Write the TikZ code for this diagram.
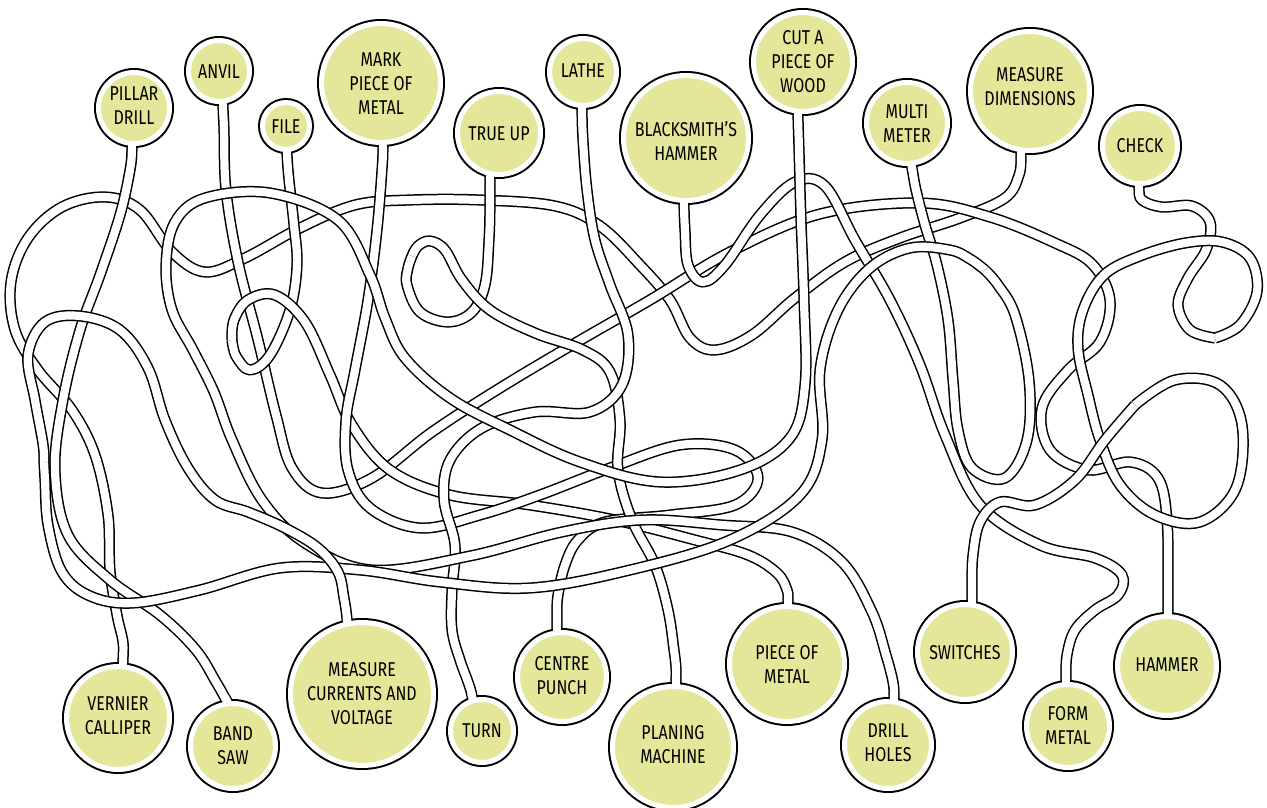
\documentclass[tikz,border=0pt]{standalone}
\usepackage{fontspec}
\newfontfamily\lblfont[FakeStretch=0.8]{Fira Sans}
\definecolor{yel}{HTML}{E4E799}
\tikzset{
  tube/.style={draw=black, line width=1.5pt, double=white, double distance=8.2pt, line join=round},
  bubble/.style={circle, fill=yel, draw=white, line width=5pt, preaction={draw=black, line width=9pt}, inner sep=0pt, minimum size=#1},
  lbl/.style={align=center, font=\lblfont\fontsize{20}{24}\selectfont, inner sep=0pt},
  stub/.style={draw=white, line width=8.2pt},
  sm/.style={smooth, tension=0.6}
}
\begin{document}
\begin{tikzpicture}[x=1pt,y=-1pt]
\fill[white] (0,0) rectangle (1267,808);
\useasboundingbox (0,0) rectangle (1267,808);

% ---------- tubes ----------
% Measure dimensions -> Vernier calliper
\draw[tube] plot[sm] coordinates {(1021,130) (1021,154) (1019,175) (1005,198) (960,218) (900,238) (845,262) (795,298) (752,335) (715,350) (690,338) (670,300) (640,265) (600,226) (555,206) (480,200) (410,200) (355,205) (300,228) (245,258) (205,272) (172,252) (140,210) (105,197) (62,207) (28,238) (11,282) (15,330) (38,370) (72,410) (95,455) (108,515) (110,570) (117,615) (123,642) (123,662) (123,690)};
% Pillar drill -> Band saw
\draw[tube] plot[sm] coordinates {(132,125) (132,148) (130,170) (120,215) (100,275) (80,330) (63,400) (55,470) (68,535) (110,580) (160,615) (196,650) (216,682) (226,699.5) (236,717)};
% Anvil -> Hammer
\draw[tube] plot[sm] coordinates {(223,85) (223,106) (224,130) (226,190) (238,262) (258,340) (276,415) (292,468) (322,493) (372,478) (432,432) (500,388) (572,345) (650,300) (730,252) (820,214) (920,203) (990,217) (1055,243) (1092,264) (1110,300) (1100,342) (1068,370) (1042,408) (1050,450) (1088,470) (1130,462) (1158,478) (1167,520) (1168,590) (1168,612) (1168,635)};
% File -> Piece of metal
\draw[tube] plot[sm] coordinates {(287,134) (287,154) (289,180) (294,225) (297,265) (290,310) (270,355) (250,370) (236,356) (232,340)};
\draw[tube] plot[sm] coordinates {(232,340) (234,320) (248,300) (275,295) (305,322) (330,375) (352,425) (390,470) (450,495) (530,505) (615,520) (695,540) (748,555) (777,573) (787,590) (788,602) (788,622)};
% Mark piece of metal -> Centre punch
\draw[tube] plot[sm] coordinates {(383,125) (383,147) (382,170) (377,230) (368,300) (355,370) (346,420) (348,470) (370,508) (420,528) (480,515) (540,495) (610,468) (680,445) (735,450) (758,478) (735,505) (670,515) (605,522) (578,540) (565,565) (558,595) (557,612) (557,628) (557,648)};
% True up -> Planing machine
\draw[tube] plot[sm] coordinates {(490,158) (490,178) (490,205) (489,240) (485,285) (472,312) (448,322) (420,312) (407,285) (408,268) (412,256)};
\draw[tube] plot[sm] coordinates {(412,256) (418,246) (430,241) (445,250) (462,280) (490,310) (535,333) (583,350) (610,372) (620,420) (618,470) (632,520) (655,565) (668,610) (674,650) (676,668) (676,682) (676,702)};
% Lathe -> Turn
\draw[tube] plot[sm] coordinates {(582,90) (582,110) (583,140) (587,190) (595,240) (610,285) (628,335) (622,385) (590,412) (535,412) (482,428) (450,460) (444,500) (455,545) (452,590) (452,630) (460,660) (468,682) (472,696) (474,716)};
% Blacksmith's hammer -> Form metal
\draw[tube] plot[sm] coordinates {(684,185) (684,205) (685,230) (688,265) (703,282) (725,265) (760,215) (795,182) (825,186) (855,240) (890,300) (920,365) (945,435) (980,505) (1040,545) (1095,558) (1122,575) (1118,595) (1095,610) (1075,630) (1067,655) (1066,680) (1066,700)};
% Cut a piece of wood -> Drill holes
\draw[tube] plot[sm] coordinates {(798,96) (798,116) (799,150) (801,220) (804,300) (805,385) (790,438) (740,470) (660,482) (580,462) (510,430) (450,398) (405,358) (385,318) (370,275) (338,220) (270,193) (205,198) (175,222) (166,265) (172,310) (193,350) (214,392) (232,440) (262,500) (305,543) (372,570) (470,556) (562,532) (642,520) (722,525) (792,532) (842,562) (872,612) (886,655) (893,682) (894,697) (894,717)};
% Multi meter -> Measure currents and voltage
\draw[tube] plot[sm] coordinates {(908,148) (912,168) (916,190) (925,225) (937,265) (948,320) (953,380) (958,430) (972,468) (1005,478) (1027,440) (1029,380) (1015,315) (998,285) (985,270)};
\draw[tube] plot[sm] coordinates {(985,270) (970,259) (950,250) (910,248) (870,268) (838,310) (820,370) (822,440) (800,495) (730,540) (630,570) (530,588) (440,582) (360,570) (280,568) (200,590) (133,603) (90,596) (62,572) (48,525) (45,480) (44,462)};
\draw[tube] plot[sm] coordinates {(44,462) (43,444) (35,400) (28,355) (45,322) (80,316) (120,330) (148,368) (165,420) (188,468) (215,500) (248,512) (285,528) (318,548) (338,572) (344,598) (347,619) (348,640)};
% Check -> Switches
\draw[tube] plot[sm] coordinates {(1139,168) (1139,188) (1142,200) (1162,207) (1192,206) (1210,222) (1206,250) (1188,278) (1178,305) (1190,330) (1215,338)};
\draw[tube] plot[sm] coordinates {(1215,338) (1240,325) (1257,292) (1250,258) (1222,242) (1185,243) (1140,256) (1104,275) (1083,310) (1078,348) (1088,395) (1100,440) (1120,485) (1155,515) (1200,522) (1236,488) (1242,425) (1220,385) (1175,380) (1135,405)};
\draw[tube] plot[sm] coordinates {(1135,405) (1105,440) (1075,480) (1035,505) (1000,502) (980,522) (973,555) (972,585) (972,600.5) (972,620)};

% ---------- bubbles ----------
\node[bubble=71pt]  (pd)  at (134,108) {};
\node[bubble=61pt]  (an)  at (219,71)  {};
\node[bubble=47pt]  (fi)  at (286,126) {};
\node[bubble=119pt] (mk)  at (381,83)  {};
\node[bubble=83pt]  (tu)  at (499,133) {};
\node[bubble=67pt]  (la)  at (583,72)  {};
\node[bubble=125pt] (bh)  at (686,138) {};
\node[bubble=99pt]  (cw)  at (803,62)  {};
\node[bubble=81pt]  (mm)  at (907,123) {};
\node[bubble=119pt] (md)  at (1030,91) {};
\node[bubble=75pt]  (ch)  at (1140,146) {};
\node[bubble=103pt] (vc)  at (118,718) {};
\node[bubble=85pt]  (bs)  at (233,746) {};
\node[bubble=143pt] (mc)  at (362,694) {};
\node[bubble=63pt]  (tn)  at (482,731) {};
\node[bubble=89pt]  (cp)  at (562,677) {};
\node[bubble=121pt] (pm)  at (673,747) {};
\node[bubble=115pt] (pom) at (787,664) {};
\node[bubble=87pt]  (dh)  at (888,745) {};
\node[bubble=95pt]  (sw)  at (965,652) {};
\node[bubble=83pt]  (fm)  at (1068,726) {};
\node[bubble=99pt]  (hm)  at (1167,666) {};

% ---------- openings where tubes meet bubbles ----------
\draw[stub] (132,142) -- (132,151);
\draw[stub] (223,99.8) -- (223,108.8);
\draw[stub] (287,148) -- (287,157);
\draw[stub] (383,141) -- (383,150);
\draw[stub] (490,172) -- (490,181);
\draw[stub] (582,104) -- (582,113);
\draw[stub] (684,199) -- (684,208);
\draw[stub] (798,110) -- (798,119);
\draw[stub] (910.9,162.1) -- (912.5,171);
\draw[stub] (1021,148.4) -- (1021,157.4);
\draw[stub] (1139,182) -- (1139,191);
\draw[stub] (123,659.2) -- (123,668.2);
\draw[stub] (224.5,696.9) -- (229,704.7);
\draw[stub] (346.6,616.5) -- (347.9,625.4);
\draw[stub] (471.2,693.5) -- (473.6,702.2);
\draw[stub] (557,625.3) -- (557,634.3);
\draw[stub] (676,679.1) -- (676,688.1);
\draw[stub] (788,599) -- (788,608);
\draw[stub] (894,694.4) -- (894,703.4);
\draw[stub] (972,597.5) -- (972,606.5);
\draw[stub] (1066,677) -- (1066,686);
\draw[stub] (1168,609) -- (1168,618);

% ---------- labels ----------
\node[lbl] (tpd)  at (134,106)  {PILLAR\\DRILL};
\node[lbl] (tan)  at (219,72)   {ANVIL};
\node[lbl] (tfi)  at (286,127)  {FILE};
\node[lbl] (tmk)  at (381,84)   {MARK\\PIECE OF\\METAL};
\node[lbl] (ttu)  at (499,134)  {TRUE UP};
\node[lbl] (tla)  at (583,71)   {LATHE};
\node[lbl] (tbh)  at (686,141)  {BLACKSMITH’S\\HAMMER};
\node[lbl] (tcw)  at (803,62)   {CUT A\\PIECE OF\\WOOD};
\node[lbl] (tmm)  at (907,124)  {MULTI\\METER};
\node[lbl] (tmd)  at (1030,87)  {MEASURE\\DIMENSIONS};
\node[lbl] (tch)  at (1140,146) {CHECK};
\node[lbl] (tvc)  at (118,716)  {VERNIER\\CALLIPER};
\node[lbl] (tbs)  at (233,746)  {BAND\\SAW};
\node[lbl] (tmc)  at (362,694)  {MEASURE\\CURRENTS AND\\VOLTAGE};
\node[lbl] (ttn)  at (482,731)  {TURN};
\node[lbl] (tcp)  at (562,676)  {CENTRE\\PUNCH};
\node[lbl] (tpm)  at (673,745)  {PLANING\\MACHINE};
\node[lbl] (tpom) at (787,664)  {PIECE OF\\METAL};
\node[lbl] (tdh)  at (888,743)  {DRILL\\HOLES};
\node[lbl] (tsw)  at (965,653)  {SWITCHES};
\node[lbl] (tfm)  at (1068,725) {FORM\\METAL};
\node[lbl] (thm)  at (1167,665) {HAMMER};
\end{tikzpicture}
\end{document}
